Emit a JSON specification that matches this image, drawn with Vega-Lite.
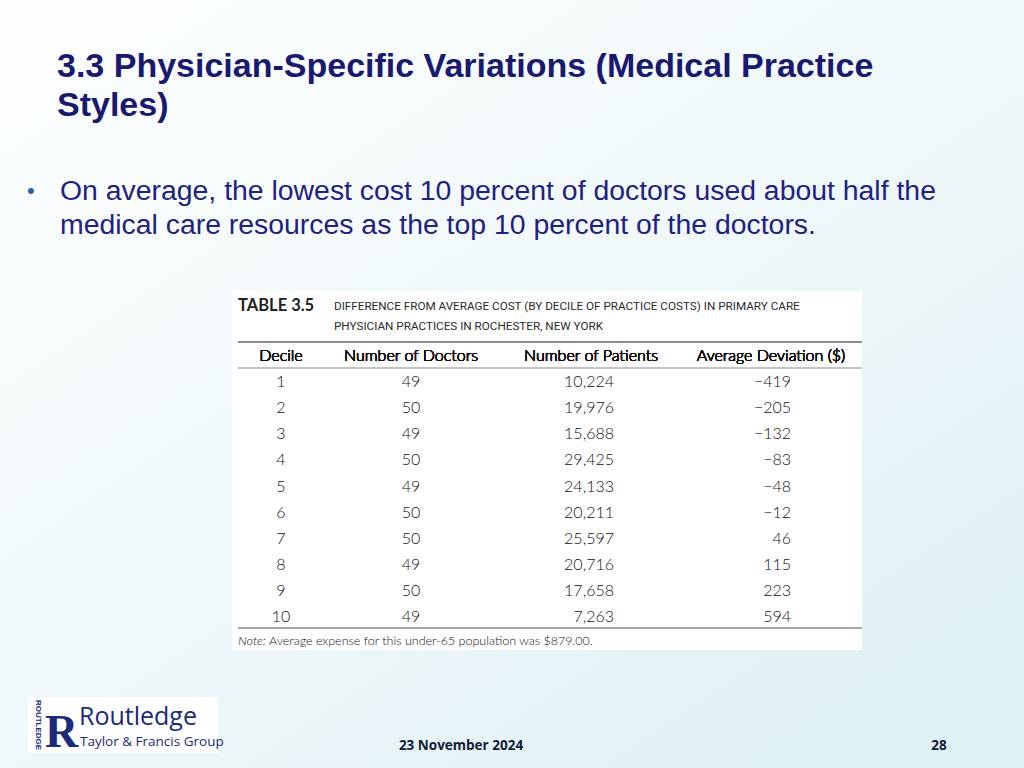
{
  "$schema": "https://vega.github.io/schema/vega-lite/v6.json",
  "width": 1024,
  "height": 768,
  "autosize": {"type": "fit", "contains": "padding"},
  "padding": 0,
  "background": "#f3fafb",
  "config": {"view": {"stroke": null}},
  "layer": [
    {
      "data": {"values": [{}]},
      "encoding": {
        "x": {"datum": 0, "type": "quantitative", "scale": {"domain": [0, 1024], "nice": false, "zero": false}, "axis": null},
        "y": {"datum": 0, "type": "quantitative", "scale": {"domain": [0, 768], "nice": false, "reverse": true}, "axis": null}
      },
      "layer": [
        {
          "mark": {"type": "rect", "color": {"gradient": "linear", "x1": 0.1, "y1": 0, "x2": 0.9, "y2": 0.9, "stops": [{"offset": 0, "color": "#fcfefe"}, {"offset": 0.5, "color": "#f0f8fa"}, {"offset": 1, "color": "#e0f1f4"}]}},
          "encoding": {"x": {"datum": 0}, "x2": {"datum": 1024}, "y": {"datum": 0}, "y2": {"datum": 768}}
        },
        {
          "mark": {"type": "rect", "color": "#ffffff"},
          "encoding": {"x": {"datum": 232}, "x2": {"datum": 862}, "y": {"datum": 291}, "y2": {"datum": 650}}
        },
        {
          "mark": {"type": "rect", "color": "#ffffff"},
          "encoding": {"x": {"datum": 28}, "x2": {"datum": 218}, "y": {"datum": 697}, "y2": {"datum": 753}}
        },
        {
          "mark": {"type": "text", "text": ["3.3 Physician-Specific Variations (Medical Practice", "Styles)"], "font": "Liberation Sans", "fontWeight": "bold", "fontSize": 34, "lineHeight": 39, "align": "left", "baseline": "alphabetic", "color": "#1a1970"},
          "encoding": {"x": {"datum": 57}, "y": {"datum": 77}}
        },
        {
          "mark": {"type": "text", "text": "•", "font": "Liberation Sans", "fontSize": 22, "align": "left", "baseline": "alphabetic", "color": "#2a5cb0"},
          "encoding": {"x": {"datum": 27}, "y": {"datum": 198}}
        },
        {
          "mark": {"type": "text", "text": ["On average, the lowest cost 10 percent of doctors used about half the", "medical care resources as the top 10 percent of the doctors."], "font": "Liberation Sans", "fontSize": 28.4, "lineHeight": 34, "align": "left", "baseline": "alphabetic", "color": "#1f2280"},
          "encoding": {"x": {"datum": 60}, "y": {"datum": 200}}
        },
        {
          "mark": {"type": "text", "text": "TABLE 3.5", "font": "Lato", "fontWeight": "bold", "fontSize": 16.5, "align": "left", "baseline": "alphabetic", "color": "#222222"},
          "encoding": {"x": {"datum": 238}, "y": {"datum": 311}}
        },
        {
          "mark": {"type": "text", "text": ["DIFFERENCE FROM AVERAGE COST (BY DECILE OF PRACTICE COSTS) IN PRIMARY CARE", "PHYSICIAN PRACTICES IN ROCHESTER, NEW YORK"], "font": "Roboto", "fontSize": 11.7, "lineHeight": 20, "align": "left", "baseline": "alphabetic", "color": "#2a2a2a"},
          "encoding": {"x": {"datum": 334}, "y": {"datum": 310}}
        },
        {
          "mark": {"type": "rule", "color": "#666666", "strokeWidth": 1.5},
          "encoding": {"x": {"datum": 238}, "x2": {"datum": 862}, "y": {"datum": 342}}
        },
        {
          "mark": {"type": "rule", "color": "#888888", "strokeWidth": 1},
          "encoding": {"x": {"datum": 238}, "x2": {"datum": 862}, "y": {"datum": 368}}
        },
        {
          "mark": {"type": "rule", "color": "#888888", "strokeWidth": 1.5},
          "encoding": {"x": {"datum": 238}, "x2": {"datum": 862}, "y": {"datum": 628}}
        },
        {
          "mark": {"type": "text", "text": "Note:", "font": "Lato", "fontStyle": "italic", "fontWeight": 300, "fontSize": 12.5, "align": "left", "baseline": "alphabetic", "color": "#111111"},
          "encoding": {"x": {"datum": 238}, "y": {"datum": 645}}
        },
        {
          "mark": {"type": "text", "text": "Average expense for this under-65 population was $879.00.", "font": "Lato", "fontWeight": 300, "fontSize": 12.5, "align": "left", "baseline": "alphabetic", "color": "#111111"},
          "encoding": {"x": {"datum": 269}, "y": {"datum": 645}}
        },
        {
          "mark": {"type": "text", "text": "R", "font": "Liberation Serif", "fontWeight": "bold", "fontSize": 46, "align": "left", "baseline": "alphabetic", "color": "#1b2a7a"},
          "encoding": {"x": {"datum": 45}, "y": {"datum": 747}}
        },
        {
          "mark": {"type": "text", "text": "ROUTLEDGE", "font": "Liberation Sans", "fontWeight": "bold", "fontSize": 8, "angle": 90, "align": "center", "baseline": "middle", "color": "#1b2a7a"},
          "encoding": {"x": {"datum": 38}, "y": {"datum": 725}}
        },
        {
          "mark": {"type": "text", "text": "Routledge", "font": "Open Sans", "fontSize": 25, "align": "left", "baseline": "alphabetic", "color": "#1b2a7a"},
          "encoding": {"x": {"datum": 79}, "y": {"datum": 725}}
        },
        {
          "mark": {"type": "text", "text": "Taylor & Francis Group", "font": "Open Sans", "fontSize": 13.5, "align": "left", "baseline": "alphabetic", "color": "#1b2a7a"},
          "encoding": {"x": {"datum": 80}, "y": {"datum": 746}}
        },
        {
          "mark": {"type": "text", "text": "23 November 2024", "font": "Open Sans", "fontWeight": "bold", "fontSize": 13.5, "align": "center", "baseline": "alphabetic", "color": "#141a3c"},
          "encoding": {"x": {"datum": 461}, "y": {"datum": 750}}
        },
        {
          "mark": {"type": "text", "text": "28", "font": "Open Sans", "fontWeight": "bold", "fontSize": 13.5, "align": "center", "baseline": "alphabetic", "color": "#141a3c"},
          "encoding": {"x": {"datum": 939}, "y": {"datum": 750}}
        }
      ]
    },
    {
      "data": {"values": [
        {"decile": 1, "doctors": 49, "patients": 10224, "deviation": -419},
        {"decile": 2, "doctors": 50, "patients": 19976, "deviation": -205},
        {"decile": 3, "doctors": 49, "patients": 15688, "deviation": -132},
        {"decile": 4, "doctors": 50, "patients": 29425, "deviation": -83},
        {"decile": 5, "doctors": 49, "patients": 24133, "deviation": -48},
        {"decile": 6, "doctors": 50, "patients": 20211, "deviation": -12},
        {"decile": 7, "doctors": 50, "patients": 25597, "deviation": 46},
        {"decile": 8, "doctors": 49, "patients": 20716, "deviation": 115},
        {"decile": 9, "doctors": 50, "patients": 17658, "deviation": 223},
        {"decile": 10, "doctors": 49, "patients": 7263, "deviation": 594}
      ]},
      "encoding": {
        "y": {"field": "decile", "type": "quantitative", "scale": {"domain": [0, 10], "range": [361, 622], "nice": false, "zero": false}, "axis": null}
      },
      "layer": [
        {
          "mark": {"type": "text", "font": "Lato", "fontWeight": 300, "fontSize": 16, "align": "center", "baseline": "alphabetic", "color": "#111111"},
          "encoding": {
            "x": {"datum": 281, "type": "quantitative"},
            "text": {"field": "decile", "type": "quantitative", "format": "d"}
          }
        },
        {
          "mark": {"type": "text", "font": "Lato", "fontWeight": 300, "fontSize": 16, "align": "center", "baseline": "alphabetic", "color": "#111111"},
          "encoding": {
            "x": {"datum": 411, "type": "quantitative"},
            "text": {"field": "doctors", "type": "quantitative", "format": "d"}
          }
        },
        {
          "mark": {"type": "text", "font": "Lato", "fontWeight": 300, "fontSize": 16, "align": "right", "baseline": "alphabetic", "color": "#111111"},
          "encoding": {
            "x": {"datum": 614, "type": "quantitative"},
            "text": {"field": "patients", "type": "quantitative", "format": ","}
          }
        },
        {
          "mark": {"type": "text", "font": "Lato", "fontWeight": 300, "fontSize": 16, "align": "right", "baseline": "alphabetic", "color": "#111111"},
          "encoding": {
            "x": {"datum": 791, "type": "quantitative"},
            "text": {"field": "deviation", "type": "quantitative", "format": "d"}
          }
        },
        {
          "mark": {"type": "text", "text": "Decile", "font": "Lato", "fontWeight": 300, "fontSize": 16, "align": "center", "baseline": "alphabetic", "color": "#111111"},
          "encoding": {"x": {"datum": 281, "type": "quantitative"}, "y": {"datum": 0}}
        },
        {
          "mark": {"type": "text", "text": "Number of Doctors", "font": "Lato", "fontWeight": 300, "fontSize": 16, "align": "center", "baseline": "alphabetic", "color": "#111111"},
          "encoding": {"x": {"datum": 411, "type": "quantitative"}, "y": {"datum": 0}}
        },
        {
          "mark": {"type": "text", "text": "Number of Patients", "font": "Lato", "fontWeight": 300, "fontSize": 16, "align": "center", "baseline": "alphabetic", "color": "#111111"},
          "encoding": {"x": {"datum": 591, "type": "quantitative"}, "y": {"datum": 0}}
        },
        {
          "mark": {"type": "text", "text": "Average Deviation ($)", "font": "Lato", "fontWeight": 300, "fontSize": 16, "align": "center", "baseline": "alphabetic", "color": "#111111"},
          "encoding": {"x": {"datum": 771, "type": "quantitative"}, "y": {"datum": 0}}
        }
      ]
    }
  ],
  "resolve": {"scale": {"y": "independent"}}
}
